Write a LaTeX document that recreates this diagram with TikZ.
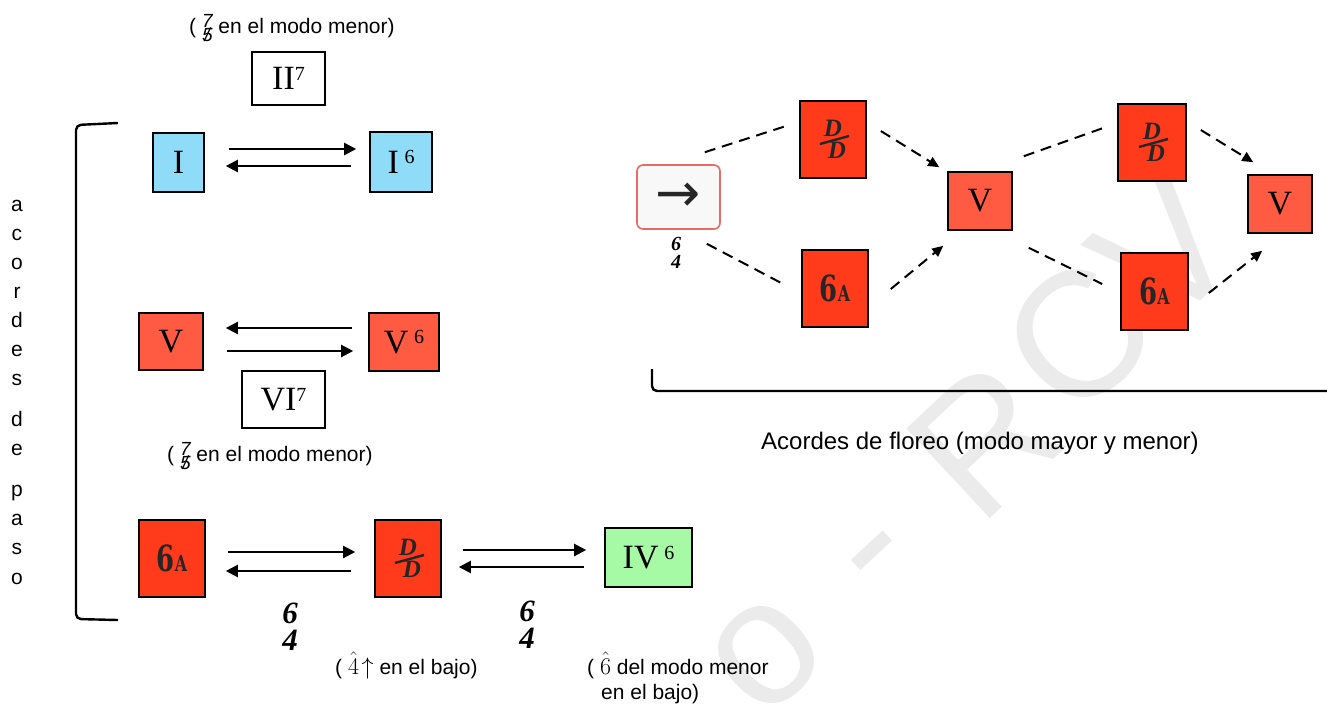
\documentclass[tikz,border=0pt]{standalone}
\usepackage{fix-cm}
\usepackage{fontspec}
\setmainfont{Liberation Serif}
\setsansfont{Liberation Sans}
\newfontfamily\sixf[FakeStretch=0.72]{DejaVu Serif}
\newfontfamily\arrf{DejaVu Sans}
\usetikzlibrary{arrows.meta,calc}
\definecolor{cblue}{HTML}{8FDCF9}
\definecolor{cvred}{HTML}{FF5B42}
\definecolor{cred}{HTML}{FF3B1C}
\definecolor{cgreen}{HTML}{A6FAA6}
\definecolor{cabfill}{HTML}{F8F8F8}
\definecolor{cabdraw}{HTML}{E86A66}
\definecolor{cglyph}{HTML}{262626}
\definecolor{cwm}{HTML}{EBEBEB}
\newcommand\chsup[1]{\raisebox{9.5pt}{\fontsize{20}{20}\selectfont #1}}
\newcommand\chsupb[1]{\raisebox{9pt}{\fontsize{20}{20}\selectfont #1}}
\newcommand\sfive{{\fontsize{19}{13}\selectfont\itshape\raisebox{-8pt}{\shortstack{7\\[-3pt]\ooalign{5\cr\hidewidth/\hidewidth\cr}}}}}
\newcommand\sixa{{\sixf\bfseries\fontsize{36}{36}\selectfont 6\fontsize{22}{22}\selectfont A}}
\newcommand\ddmark[1]{%
  \node[ddf] (#1-u) at ([shift={(0pt,11pt)}]#1.center) {D};
  \node[ddf] (#1-l) at ([shift={(4pt,-11pt)}]#1.center) {D};
  \draw[cglyph,line width=2.4pt] ([shift={(-13pt,-4.5pt)}]#1.center) -- ([shift={(16pt,3.5pt)}]#1.center);}
\tikzset{
  chord/.style={draw=black,line width=1.6pt,inner sep=0pt,font=\fontsize{34}{34}\selectfont},
  bluebox/.style={chord,fill=cblue},
  vbox/.style={chord,fill=cvred},
  rbox/.style={chord,fill=cred,minimum width=66pt,minimum height=77pt,text=cglyph},
  wbox/.style={chord,fill=white},
  gbox/.style={chord,fill=cgreen},
  ddf/.style={font=\fontsize{25}{25}\selectfont\bfseries\itshape,text=cglyph,inner sep=0pt},
  sans/.style={font=\sffamily\fontsize{21}{25}\selectfont,inner sep=0pt},
  fig/.style={font=\bfseries\itshape\fontsize{31}{27}\selectfont,align=center,inner sep=0pt},
  arr/.style={line width=2.2pt,-{Triangle[length=12pt,width=12pt]}},
  dline/.style={line width=2pt,dash pattern=on 11pt off 7pt},
  darr/.style={dline,-{Triangle[length=11pt,width=10pt]}},
  brack/.style={line width=2.4pt,rounded corners=5pt},
  wmark/.style={font=\sffamily\fontsize{178}{178}\selectfont,text=cwm,rotate=43,inner sep=0pt}
}
\begin{document}
\begin{tikzpicture}[x=1pt,y=-1pt]
\useasboundingbox (0,0) rectangle (1327,704);
% watermark
\node[wmark] (wm1) at (767,655) {o};
\node[wmark] (wm2) at (886,565) {-};
\node[wmark] (wm3) at (985,440) {R};
\node[wmark] (wm4) at (1078,337) {C};
\node[wmark] (wm5) at (1165,250) {V};
% left column label
\foreach \l/\yy [count=\i] in {a/205,c/234,o/263,r/292,d/321,e/350,s/379,d/420,e/449,p/490,a/519,s/548,o/578}
  \node[sans,anchor=base] (col\i) at (17,\yy+6) {\l};
% brackets
\draw[brack] (118,123) -- (76,125) -- (76,619) -- (118,620);
\draw[brack] (652,369) -- (652,391) -- (1330,391);
% left chords
\node[wbox,minimum width=73pt,minimum height=53pt] (II7) at (288.5,78.5) {II\chsupb{7}};
\node[bluebox,minimum width=51pt,minimum height=59pt] (I) at (178.5,162.5) {I};
\node[bluebox,minimum width=62pt,minimum height=60pt] (I6) at (401,162) {I\,\chsup{6}};
\node[vbox,minimum width=64pt,minimum height=57pt] (V) at (171,341.5) {V};
\node[vbox,minimum width=70pt,minimum height=58pt] (V6) at (404,342) {V\,\chsup{6}};
\node[wbox,minimum width=83pt,minimum height=57pt] (VI7) at (283.5,399.5) {VI\chsupb{7}};
\node[rbox] (sa1) at (172,558.5) {\sixa};
\node[rbox] (dd1) at (408,558.5) {};
\ddmark{dd1}
\node[gbox,minimum width=87pt,minimum height=59pt] (IV6) at (648.5,557.5) {IV\,\chsup{6}};
% left arrows
\coordinate (p1) at ([yshift=13.5pt]I.east);
\coordinate (p2) at ([yshift=-3.5pt]I.east);
\draw[arr,shorten <=24pt,shorten >=13pt] (p1) -- (p1 -| I6.west);
\draw[arr,shorten <=18pt,shorten >=21pt] (p2 -| I6.west) -- (p2);
\coordinate (p3) at ([yshift=13.5pt]V.east);
\coordinate (p4) at ([yshift=-9.5pt]V.east);
\draw[arr,shorten <=16pt,shorten >=22pt] (p3 -| V6.west) -- (p3);
\draw[arr,shorten <=23pt,shorten >=15pt] (p4) -- (p4 -| V6.west);
\coordinate (p5) at ([yshift=6.5pt]sa1.east);
\coordinate (p6) at ([yshift=-12.5pt]sa1.east);
\draw[arr,shorten <=22pt,shorten >=19pt] (p5) -- (p5 -| dd1.west);
\draw[arr,shorten <=23pt,shorten >=20pt] (p6 -| dd1.west) -- (p6);
\coordinate (p7) at ([yshift=8.5pt]dd1.east);
\coordinate (p8) at ([yshift=-8.5pt]dd1.east);
\draw[arr,shorten <=21pt,shorten >=18pt] (p7) -- (p7 -| IV6.west);
\draw[arr,shorten <=20pt,shorten >=17pt] (p8 -| IV6.west) -- (p8);
% left texts
\node[sans,anchor=base west] (cap1) at (189,33) {( \sfive\ en el modo menor)};
\node[sans,anchor=base west] (cap2) at (167,461) {( \sfive\ en el modo menor)};
\node[fig] (f64a) at (290,627) {6\\4};
\node[fig] (f64b) at (527,625) {6\\4};
\node[sans,anchor=base west] (cap3) at (335,674) {( {\fontsize{24}{24}\selectfont$\hat{4}\!\uparrow$} en el bajo)};
\node[sans,anchor=base west] (cap4a) at (587,674) {( {\fontsize{24}{24}\selectfont$\hat{6}$} del modo menor};
\node[sans,anchor=base west] (cap4b) at (601,699) {en el bajo)};
% right side
\node[draw=cabdraw,fill=cabfill,rounded corners=6pt,line width=1.6pt,minimum width=83pt,minimum height=64pt,inner sep=0pt,font=\arrf\fontsize{54}{54}\selectfont,text=cglyph] (ab) at (678.5,197) {→};
\node[fig,font=\bfseries\itshape\fontsize{20}{18}\selectfont] (f64c) at (676,253) {6\\4};
\node[rbox] (dd2) at (833,139.5) {};
\ddmark{dd2}
\node[rbox] (sa2) at (835,288.5) {\sixa};
\node[vbox,minimum width=64pt,minimum height=58pt] (V2) at (980,201) {V};
\node[rbox,minimum width=68pt] (dd3) at (1152,142.5) {};
\ddmark{dd3}
\node[rbox,minimum width=67pt] (sa3) at (1154.5,291.5) {\sixa};
\node[vbox,minimum width=64pt,minimum height=58pt] (V3) at (1280,204) {V};
% right connectors
\draw[dline] ([shift={(-16pt,12pt)}]ab.north east) -- ([shift={(-10pt,14.5pt)}]dd2.west);
\draw[dline] ([shift={(-14pt,-14pt)}]ab.south east) -- ([shift={(-20pt,5.5pt)}]sa2.west);
\draw[darr] ([shift={(14pt,8.5pt)}]dd2.east) -- ([shift={(-8pt,4pt)}]V2.north west);
\draw[darr] ([shift={(22pt,-0.5pt)}]sa2.east) -- ([shift={(-4pt,-15pt)}]V2.south west);
\draw[dline] ([shift={(11pt,15pt)}]V2.north east) -- ([shift={(-14pt,14.5pt)}]dd3.west);
\draw[dline] ([shift={(16pt,-17pt)}]V2.south east) -- ([shift={(-18pt,7.5pt)}]sa3.west);
\draw[darr] ([shift={(14pt,12.5pt)}]dd3.east) -- ([shift={(6pt,12pt)}]V3.north west);
\draw[darr] ([shift={(20pt,-1.5pt)}]sa3.east) -- ([shift={(15pt,-17pt)}]V3.south west);
\node[sans,font=\sffamily\fontsize{24}{28}\selectfont,anchor=base west] (cap5) at (761,449) {Acordes de floreo (modo mayor y menor)};
\end{tikzpicture}
\end{document}
